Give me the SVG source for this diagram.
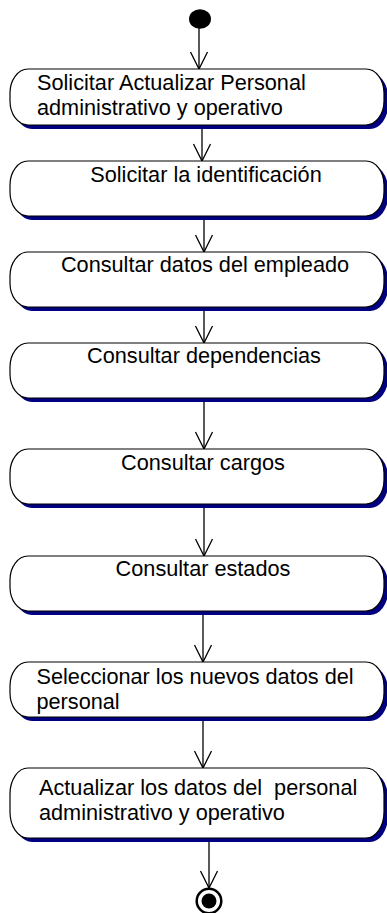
<svg xmlns="http://www.w3.org/2000/svg" width="387" height="913" viewBox="0 0 387 913">
<style>
.sh{fill:#000080;stroke:none}
.nd{fill:#ffffff;stroke:#000000;stroke-width:1.2}
.t{font-family:"Liberation Sans",Arial,sans-serif;font-size:21.7px;fill:#000000;white-space:pre}
.c{text-anchor:middle}
.ln{fill:none;stroke:#000000;stroke-width:1.3;marker-end:url(#arr)}
</style>
<defs>
<marker id="arr" markerUnits="userSpaceOnUse" viewBox="-19 -11 21 22" refX="0" refY="0" markerWidth="21" markerHeight="22" orient="auto" overflow="visible">
<path d="M-17,-8.5 L0,0 L-17,8.5" fill="none" stroke="#000000" stroke-width="1.3"/>
</marker>
</defs>
<rect width="387" height="913" fill="#ffffff"/>
<g id="connectors">
<line class="ln" x1="199" y1="28" x2="199" y2="69"/>
<line class="ln" x1="202" y1="129" x2="202" y2="161"/>
<line class="ln" x1="204" y1="220" x2="204" y2="252"/>
<line class="ln" x1="204" y1="311" x2="204" y2="343"/>
<line class="ln" x1="204" y1="402" x2="204" y2="449"/>
<line class="ln" x1="204" y1="508" x2="204" y2="556"/>
<line class="ln" x1="203" y1="615" x2="203" y2="662"/>
<line class="ln" x1="203" y1="721" x2="203" y2="768"/>
<line class="ln" x1="209" y1="842" x2="209" y2="888"/>
</g>
<g id="start">
<ellipse cx="200" cy="19" rx="11" ry="9.8" fill="#000000"/>
</g>
<g id="n1">
<rect class="sh" x="14" y="73" width="374" height="56" rx="18" ry="24"/>
<rect class="nd" x="10" y="69" width="374" height="56" rx="18" ry="24"/>
<text class="t" x="37" y="89.5">Solicitar Actualizar Personal</text>
<text class="t" x="37" y="114.5">administrativo y operativo</text>
</g>
<g id="n2">
<rect class="sh" x="14" y="165" width="374" height="55" rx="18" ry="24"/>
<rect class="nd" x="10" y="161" width="374" height="55" rx="18" ry="24"/>
<text class="t c" x="206" y="181.5">Solicitar la identificación</text>
</g>
<g id="n3">
<rect class="sh" x="14" y="256" width="374" height="55" rx="18" ry="24"/>
<rect class="nd" x="10" y="252" width="374" height="55" rx="18" ry="24"/>
<text class="t c" x="205" y="272">Consultar datos del empleado</text>
</g>
<g id="n4">
<rect class="sh" x="14" y="347" width="374" height="55" rx="18" ry="24"/>
<rect class="nd" x="10" y="343" width="374" height="55" rx="18" ry="24"/>
<text class="t c" x="204" y="363">Consultar dependencias</text>
</g>
<g id="n5">
<rect class="sh" x="14" y="453" width="374" height="55" rx="18" ry="24"/>
<rect class="nd" x="10" y="449" width="374" height="55" rx="18" ry="24"/>
<text class="t c" x="203" y="470">Consultar cargos</text>
</g>
<g id="n6">
<rect class="sh" x="14" y="560" width="374" height="55" rx="18" ry="24"/>
<rect class="nd" x="10" y="556" width="374" height="55" rx="18" ry="24"/>
<text class="t c" x="203" y="576">Consultar estados</text>
</g>
<g id="n7">
<rect class="sh" x="14" y="666" width="374" height="55" rx="18" ry="24"/>
<rect class="nd" x="10" y="662" width="374" height="55" rx="18" ry="24"/>
<text class="t" x="36.5" y="683.5">Seleccionar los nuevos datos del</text>
<text class="t" x="36.5" y="708.5">personal</text>
</g>
<g id="n8">
<rect class="sh" x="14" y="772" width="374" height="70" rx="18" ry="26"/>
<rect class="nd" x="10" y="768" width="374" height="70" rx="18" ry="26"/>
<text class="t" x="39" y="795" xml:space="preserve">Actualizar los datos del  personal</text>
<text class="t" x="39" y="820">administrativo y operativo</text>
</g>
<g id="end">
<circle cx="209" cy="901" r="12.3" fill="#ffffff" stroke="#000000" stroke-width="2.5"/>
<circle cx="209" cy="901" r="7.5" fill="#000000"/>
</g>
</svg>
